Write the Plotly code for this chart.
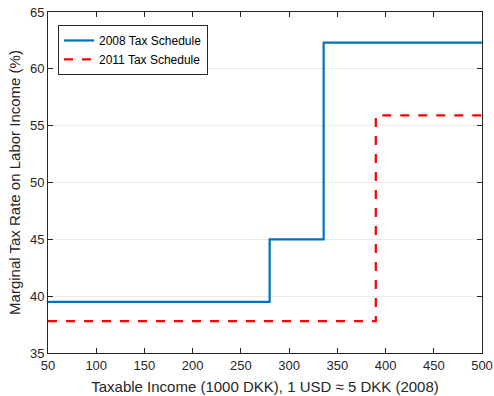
import plotly.graph_objects as go

# Income thresholds (1000 DKK) and marginal rates (%) for each schedule
income_2008 = [50, 279.8, 335.8, 500]
rate_2008 = [39.5, 45.0, 62.3, 62.3]
income_2011 = [50, 389.9, 500]
rate_2011 = [37.8, 55.9, 55.9]

x_ticks = [50, 100, 150, 200, 250, 300, 350, 400, 450, 500]
y_ticks = [35, 40, 45, 50, 55, 60, 65]

FONT = "Liberation Sans, Arial, sans-serif"
AXIS_COLOR = "#262626"

fig = go.Figure()
fig.add_trace(go.Scatter(
    x=income_2008, y=rate_2008, mode="lines", line_shape="hv",
    name="2008 Tax Schedule",
    line=dict(color="#0072BD", width=2.2),
))
fig.add_trace(go.Scatter(
    x=income_2011, y=rate_2011, mode="lines", line_shape="hv",
    name="2011 Tax Schedule",
    line=dict(color="#FF0000", width=2.2, dash="dash"),
))

axis_common = dict(
    showline=True, linecolor=AXIS_COLOR, linewidth=1, mirror="ticks",
    ticks="inside", ticklen=5, tickcolor=AXIS_COLOR, tickwidth=1,
    tickfont=dict(family=FONT, size=13, color=AXIS_COLOR),
    zeroline=False, automargin=False,
)

fig.update_xaxes(
    range=[50, 500], tickvals=x_ticks, showgrid=False,
    title=dict(text="Taxable Income (1000 DKK), 1 USD \u2248 5 DKK (2008)",
               font=dict(family=FONT, size=15, color=AXIS_COLOR), standoff=9),
    **axis_common,
)
fig.update_yaxes(
    range=[35, 65], tickvals=y_ticks, showgrid=True, gridcolor="#ebebeb", gridwidth=1,
    title=dict(text="Marginal Tax Rate on Labor Income (%)",
               font=dict(family=FONT, size=15, color=AXIS_COLOR), standoff=5),
    **axis_common,
)

fig.update_layout(
    width=494, height=396,
    margin=dict(l=48, r=12, t=12, b=43),
    paper_bgcolor="white", plot_bgcolor="white",
    showlegend=True,
    legend=dict(
        x=0.023, y=0.962, xanchor="left", yanchor="top",
        bgcolor="white", bordercolor=AXIS_COLOR, borderwidth=1,
        font=dict(family=FONT, size=12, color="black"),
        tracegroupgap=0, itemwidth=30,
    ),
)

fig.write_html("out.html")
